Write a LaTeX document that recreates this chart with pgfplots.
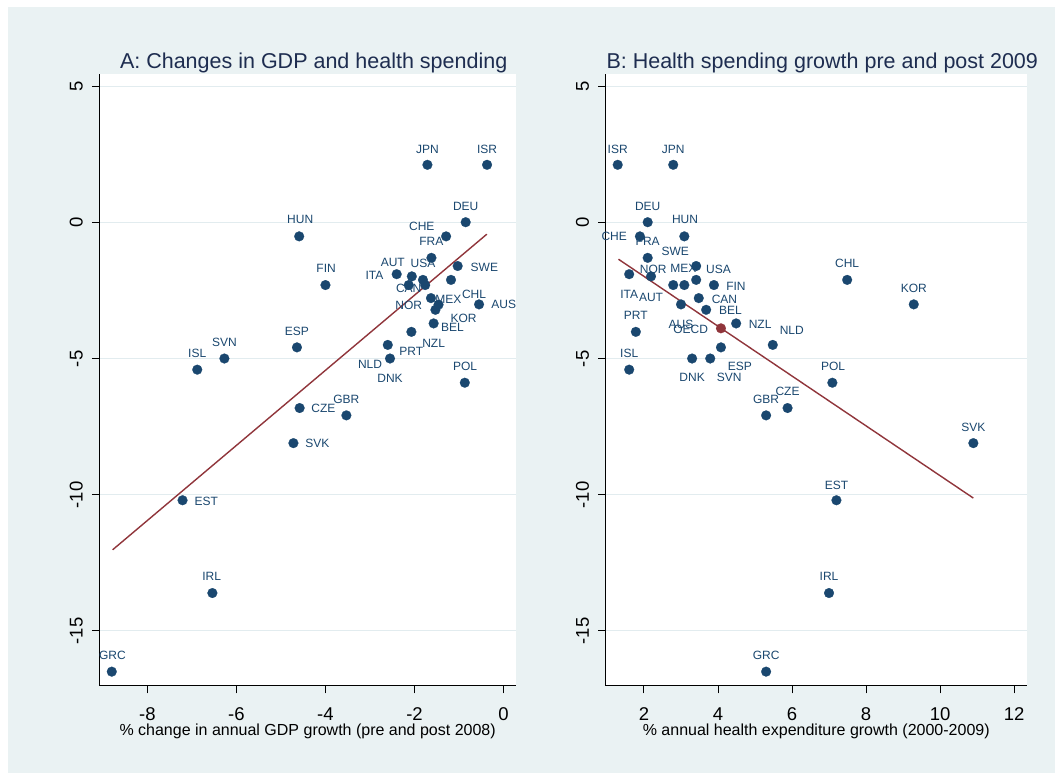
\documentclass[border=0pt]{standalone}
\usepackage{fontspec}
\setmainfont{Liberation Sans}
\usepackage{pgfplots}
\pgfplotsset{compat=1.18}
\usepackage{pgfplotstable}

\definecolor{stnavy}{RGB}{26,71,111}
\definecolor{stmaroon}{RGB}{144,53,59}
\definecolor{stbg}{RGB}{234,242,243}
\definecolor{stgrid}{RGB}{226,236,239}
\definecolor{sttitle}{RGB}{30,45,80}

% x y dx dy lab  (dx, dy: label offset from the marker, in pt)
\pgfplotstableread{
x y dx dy lab
-1.71 2.13 0 15 JPN
-0.37 2.13 0 15 ISR
-0.85 0.02 0 15.7 DEU
-4.59 -0.50 1 16.7 HUN
-1.29 -0.50 -24.3 10 CHE
-1.62 -1.29 0 16.3 FRA
-1.03 -1.59 26.7 -1 SWE
-2.40 -1.89 -22.3 -1.3 ITA
-2.06 -1.97 -19 14 AUT
-1.81 -2.10 0 16.7 USA
-1.18 -2.10 23 -14 CHL
-2.13 -2.29 0 -20.3 NOR
-1.76 -2.29 23.3 -14.3 MEX
-4.00 -2.29 0.7 17 FIN
-1.63 -2.77 -22.3 9.3 CAN
-1.46 -3.01 25 -13.7 KOR
-0.55 -3.00 24.7 0 AUS
-1.53 -3.20 17 -17.7 BEL
-1.57 -3.70 0 -20 NZL
-2.07 -4.01 0 -19.7 PRT
-2.60 -4.49 -17.7 -19 NLD
-4.64 -4.58 0 16 ESP
-2.55 -4.99 0 -19.7 DNK
-6.27 -4.99 0 16 SVN
-6.88 -5.40 0 16 ISL
-0.87 -5.88 0.3 16.3 POL
-4.58 -6.81 23.7 0 CZE
-3.53 -7.08 0 15.7 GBR
-4.72 -8.10 24 -0.7 SVK
-7.21 -10.20 23.7 -1.3 EST
-6.54 -13.61 -0.7 16.7 IRL
-8.80 -16.50 0.7 16 GRC
}\tabA

\pgfplotstableread{
x y dx dy lab
1.29 2.13 0 15 ISR
2.79 2.13 0 15 JPN
2.10 0.02 0 15.7 DEU
1.89 -0.50 -25.7 0 CHE
3.09 -0.50 0.7 16.7 HUN
2.10 -1.29 0 16.3 FRA
3.41 -1.59 -21 14.7 SWE
1.60 -1.89 0 -20 ITA
2.19 -1.97 0 -21 AUT
3.41 -2.10 22.3 10.7 USA
7.49 -2.10 0 16.3 CHL
2.79 -2.29 -20 15.3 NOR
3.09 -2.29 -1 17 MEX
3.89 -2.29 22 -1.3 FIN
3.48 -2.77 25.7 -1.3 CAN
9.29 -3.00 0 16 KOR
3.00 -3.00 0 -19.7 AUS
3.68 -3.20 24.3 -1 BEL
4.49 -3.70 24 -1 NZL
1.78 -4.01 0 16.3 PRT
5.48 -4.49 19 14.7 NLD
4.08 -4.58 19 -19 ESP
3.30 -4.99 0 -19.3 DNK
3.79 -4.99 19 -18.7 SVN
1.60 -5.40 0 16 ISL
7.09 -5.88 0.7 16.3 POL
5.88 -6.81 0 16.7 CZE
5.30 -7.08 0 15.7 GBR
10.90 -8.10 0 15.7 SVK
7.20 -10.20 0 15.3 EST
7.00 -13.61 0 16.7 IRL
5.30 -16.50 0 16 GRC
}\tabB

\pgfplotstableread{
x y dx dy lab
4.08 -3.88 -30.3 -1.3 OECD
}\tabOECD

\pgfplotsset{
  stpanel/.style={
    scale only axis, height=611.3pt,
    ymin=-17.02, ymax=5.45,
    axis lines*=left,
    axis line style={black, line width=1.1pt},
    axis background/.style={fill=white},
    ytick={-15,-10,-5,0,5}, yticklabels={-15,-10,-5,0,5},
    ymajorgrids, grid style={stgrid, line width=1.3pt},
    tick align=outside, major tick length=7.5pt,
    tick style={black, line width=1pt},
    ticklabel style={font=\fontsize{18.5}{20}\selectfont},
    xticklabel style={anchor=base, inner sep=0pt, yshift=-27.5pt},
    yticklabel style={xshift=-9.1pt, rotate=90, anchor=base, inner sep=0pt},
    title style={at={(0.5,1)}, anchor=base, yshift=-0.5pt, xshift=6pt, inner sep=0pt,
      text=sttitle, font=\fontsize{21.5}{24}\selectfont},
    xlabel style={at={(0.5,0)}, anchor=base, yshift=-49.5pt, inner sep=0pt,
      font=\fontsize{16}{18}\selectfont},
    clip=false,
  },
  stlabels/.style={
    only marks, mark=none, point meta=explicit symbolic, nodes near coords,
    visualization depends on={\thisrow{dx}\as\lblx},
    visualization depends on={\thisrow{dy}\as\lbly},
    every node near coord/.style={anchor=center, inner sep=0pt,
      xshift=\lblx pt, yshift=\lbly pt, text=stnavy,
      font=\fontsize{12}{13}\selectfont},
  },
  stmarks/.style={
    only marks, mark=*, mark size=4.9pt,
    mark options={draw=#1, fill=#1, line width=0.2pt},
  },
}

\begin{document}
\begin{tikzpicture}
\fill[white] (0pt,0pt) rectangle (1055pt,773pt);
\fill[stbg] (7.5pt,0pt) rectangle (1055pt,765.5pt);

\begin{axis}[stpanel, at={(99.3pt,87.2pt)}, anchor=south west, width=416.7pt,
  xmin=-9.08, xmax=0.28,
  xtick={-8,-6,-4,-2,0}, xticklabels={-8,-6,-4,-2,0},
  title={A: Changes in GDP and health spending},
  xlabel={\% change in annual GDP growth (pre and post 2008)}]
\addplot[stlabels] table[x=x, y=y, meta=lab]{\tabA};
\addplot[stmarks=stnavy] table[x=x, y=y]{\tabA};
\addplot[stmaroon, line width=1.4pt] coordinates {(-8.78,-12.02) (-0.375,-0.42)};
\end{axis}

\begin{axis}[stpanel, at={(605.5pt,87.2pt)}, anchor=south west, width=421.5pt,
  xmin=0.96, xmax=12.35,
  xtick={2,4,6,8,10,12}, xticklabels={2,4,6,8,10,12},
  title={B: Health spending growth pre and post 2009},
  xlabel={\% annual health expenditure growth (2000-2009)}]
\addplot[stlabels] table[x=x, y=y, meta=lab]{\tabB};
\addplot[stmarks=stnavy] table[x=x, y=y]{\tabB};
\addplot[stmaroon, line width=1.4pt] coordinates {(1.31,-1.34) (10.90,-10.12)};
\addplot[stlabels] table[x=x, y=y, meta=lab]{\tabOECD};
\addplot[stmarks=stmaroon] table[x=x, y=y]{\tabOECD};
\end{axis}
\end{tikzpicture}
\end{document}
